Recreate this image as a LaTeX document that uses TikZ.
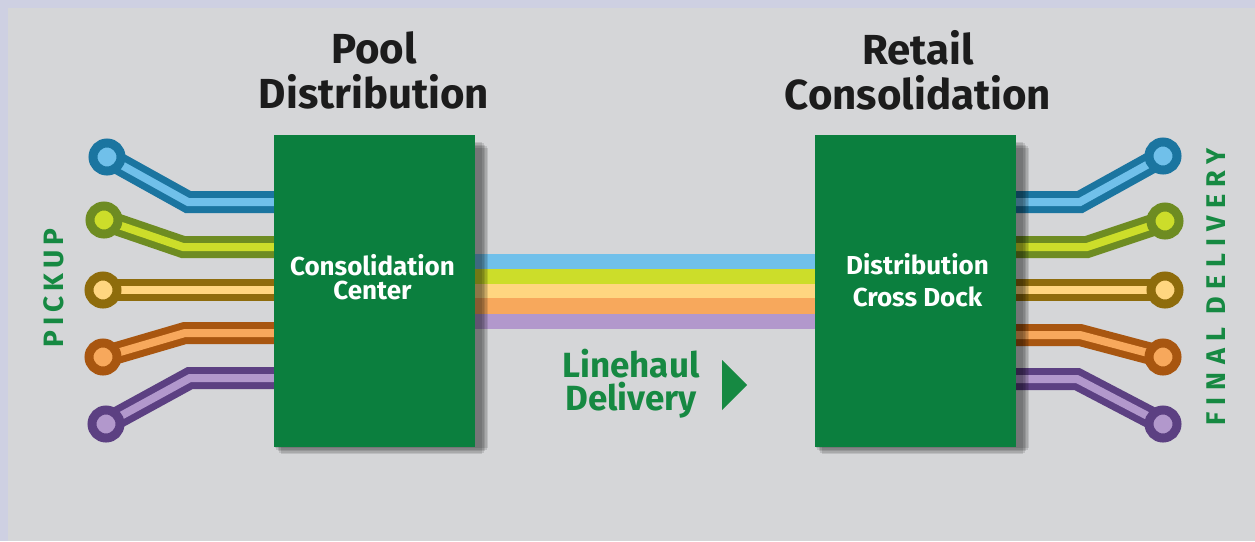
\documentclass[tikz,border=0pt]{standalone}
\usepackage{fontspec}
\setmainfont{Fira Sans}

\definecolor{frame}{RGB}{206,208,226}
\definecolor{paper}{RGB}{213,214,216}
\definecolor{boxgreen}{RGB}{11,127,62}
\definecolor{textgreen}{RGB}{22,137,66}
\definecolor{ink}{RGB}{28,28,28}
\definecolor{blueD}{RGB}{27,117,160}
\definecolor{blueL}{RGB}{112,192,234}
\definecolor{limeD}{RGB}{110,140,34}
\definecolor{limeL}{RGB}{204,221,42}
\definecolor{goldD}{RGB}{142,108,12}
\definecolor{goldL}{RGB}{255,214,128}
\definecolor{orangeD}{RGB}{168,86,16}
\definecolor{orangeL}{RGB}{247,168,92}
\definecolor{purpleD}{RGB}{92,64,130}
\definecolor{purpleL}{RGB}{178,152,204}

\pgfdeclarelayer{ground}
\pgfdeclarelayer{wires}
\pgfsetlayers{ground,wires,main}

% one pad-and-trace: #1 dark rim, #2 light core, #3 path
\newcommand{\trace}[3]{%
  \draw[traceouter, draw=#1] #3;
  \draw[traceinner, draw=#2] #3;
}

% soft drop shadow under a hub, built from stacked translucent rectangles
\newcommand{\hubshadow}[1]{%
  \foreach \g in {0,1.5,3,4.5,6}{%
    \fill[black, opacity=0.11]
      ([xshift=7pt-\g pt, yshift=-7pt+\g pt]#1.south west)
      rectangle ([xshift=7pt+\g pt, yshift=-7pt-\g pt]#1.north east);
  }%
}

\tikzset{
  hub/.style={fill=boxgreen, minimum width=201pt, minimum height=312pt,
    inner sep=0pt},
  pad/.style={circle, inner sep=0pt, minimum size=28pt, line width=9pt},
  traceouter/.style={line width=22pt, line join=miter},
  traceinner/.style={line width=8pt, line join=miter},
  band/.style={line width=15.2pt},
  title/.style={font=\bfseries\fontsize{42}{45}\selectfont, text=ink,
    inner sep=0pt, align=center},
  boxtext/.style={font=\bfseries\fontsize{26}{24}\selectfont, text=white,
    inner sep=0pt, align=center},
  greentext/.style={font=\bfseries\fontsize{35}{33}\selectfont, text=textgreen,
    inner sep=0pt, align=center},
  sidetext/.style={text=textgreen, inner sep=0pt, rotate=90},
}

\begin{document}
\begin{tikzpicture}[x=1pt, y=-1pt]
  \useasboundingbox (0,0) rectangle (1255,541);
  \begin{pgfonlayer}{ground}
    \fill[frame] (0,0) rectangle (1255,541);
    \fill[paper] (8,8) rectangle (1255,541);
  \end{pgfonlayer}

  % the two green hubs
  \node[hub] (boxL) at (374.5,291) {};
  \node[hub] (boxR) at (915.5,291) {};

  % pickup pads
  \node[pad, draw=blueD,   fill=blueL]   (pL1) at (107,157) {};
  \node[pad, draw=limeD,   fill=limeL]   (pL2) at (104,220) {};
  \node[pad, draw=goldD,   fill=goldL]   (pL3) at (103,290) {};
  \node[pad, draw=orangeD, fill=orangeL] (pL4) at (103,357) {};
  \node[pad, draw=purpleD, fill=purpleL] (pL5) at (106,424) {};

  % delivery pads
  \node[pad, draw=blueD,   fill=blueL]   (pR1) at (1163,156) {};
  \node[pad, draw=limeD,   fill=limeL]   (pR2) at (1165,221) {};
  \node[pad, draw=goldD,   fill=goldL]   (pR3) at (1165,290) {};
  \node[pad, draw=orangeD, fill=orangeL] (pR4) at (1163,357) {};
  \node[pad, draw=purpleD, fill=purpleL] (pR5) at (1163,424) {};

  \begin{pgfonlayer}{wires}
    % traces into the consolidation center
    \trace{blueD}{blueL}{(pL1.center) -- (188,202) -- (boxL.center |- 0,202)}
    \trace{limeD}{limeL}{(pL2.center) -- (183,247) -- (boxL.center |- 0,247)}
    \trace{goldD}{goldL}{(pL3.center) -- (boxL.center |- 0,290)}
    \trace{orangeD}{orangeL}{(pL4.center) -- (185,333) -- (boxL.center |- 0,333)}
    \trace{purpleD}{purpleL}{(pL5.center) -- (190,378) -- (boxL.center |- 0,378)}

    % traces out of the cross dock
    \trace{blueD}{blueL}{(pR1.center) -- (1080,202) -- (boxR.center |- 0,202)}
    \trace{limeD}{limeL}{(pR2.center) -- (1087,247) -- (boxR.center |- 0,247)}
    \trace{goldD}{goldL}{(pR3.center) -- (boxR.center |- 0,290)}
    \trace{orangeD}{orangeL}{(pR4.center) -- (1080,335) -- (boxR.center |- 0,335)}
    \trace{purpleD}{purpleL}{(pR5.center) -- (1077,379) -- (boxR.center |- 0,379)}

    % linehaul bands between the hubs
    \draw[band, blueL]   (boxL.center |- 0,261.5) -- (boxR.center |- 0,261.5);
    \draw[band, limeL]   (boxL.center |- 0,276.5) -- (boxR.center |- 0,276.5);
    \draw[band, goldL]   (boxL.center |- 0,291.5) -- (boxR.center |- 0,291.5);
    \draw[band, orangeL] (boxL.center |- 0,306)   -- (boxR.center |- 0,306);
    \draw[band, purpleL] (boxL.center |- 0,321.5) -- (boxR.center |- 0,321.5);

    % hub shadows fall over the traces and bands
    \hubshadow{boxL}
    \hubshadow{boxR}
  \end{pgfonlayer}

  % headings
  \node[title] (t1) at (374,70) {Pool\\Distribution};
  \node[title] (t2) at (918,70) {Retail\\Consolidation};

  % hub labels
  \node[boxtext] (b1) at (372.5,277) {Consolidation\\Center};
  \node[boxtext] (b2) at (917.5,280) {Distribution\\[8pt]Cross Dock};

  % linehaul caption and pointer
  \node[greentext] (lh) at (631,384) {Linehaul\\Delivery};
  \fill[textgreen] (722,360) -- (747,385) -- (722,410) -- cycle;

  % side captions
  \node[sidetext, font=\bfseries\fontsize{28}{28}\selectfont\addfontfeatures{LetterSpace=18}]
    (pick) at (54,288) {PICKUP};
  \node[sidetext, font=\bfseries\fontsize{27}{27}\selectfont\addfontfeatures{LetterSpace=27}]
    (fin) at (1216,287) {FINAL DELIVERY};
\end{tikzpicture}
\end{document}
